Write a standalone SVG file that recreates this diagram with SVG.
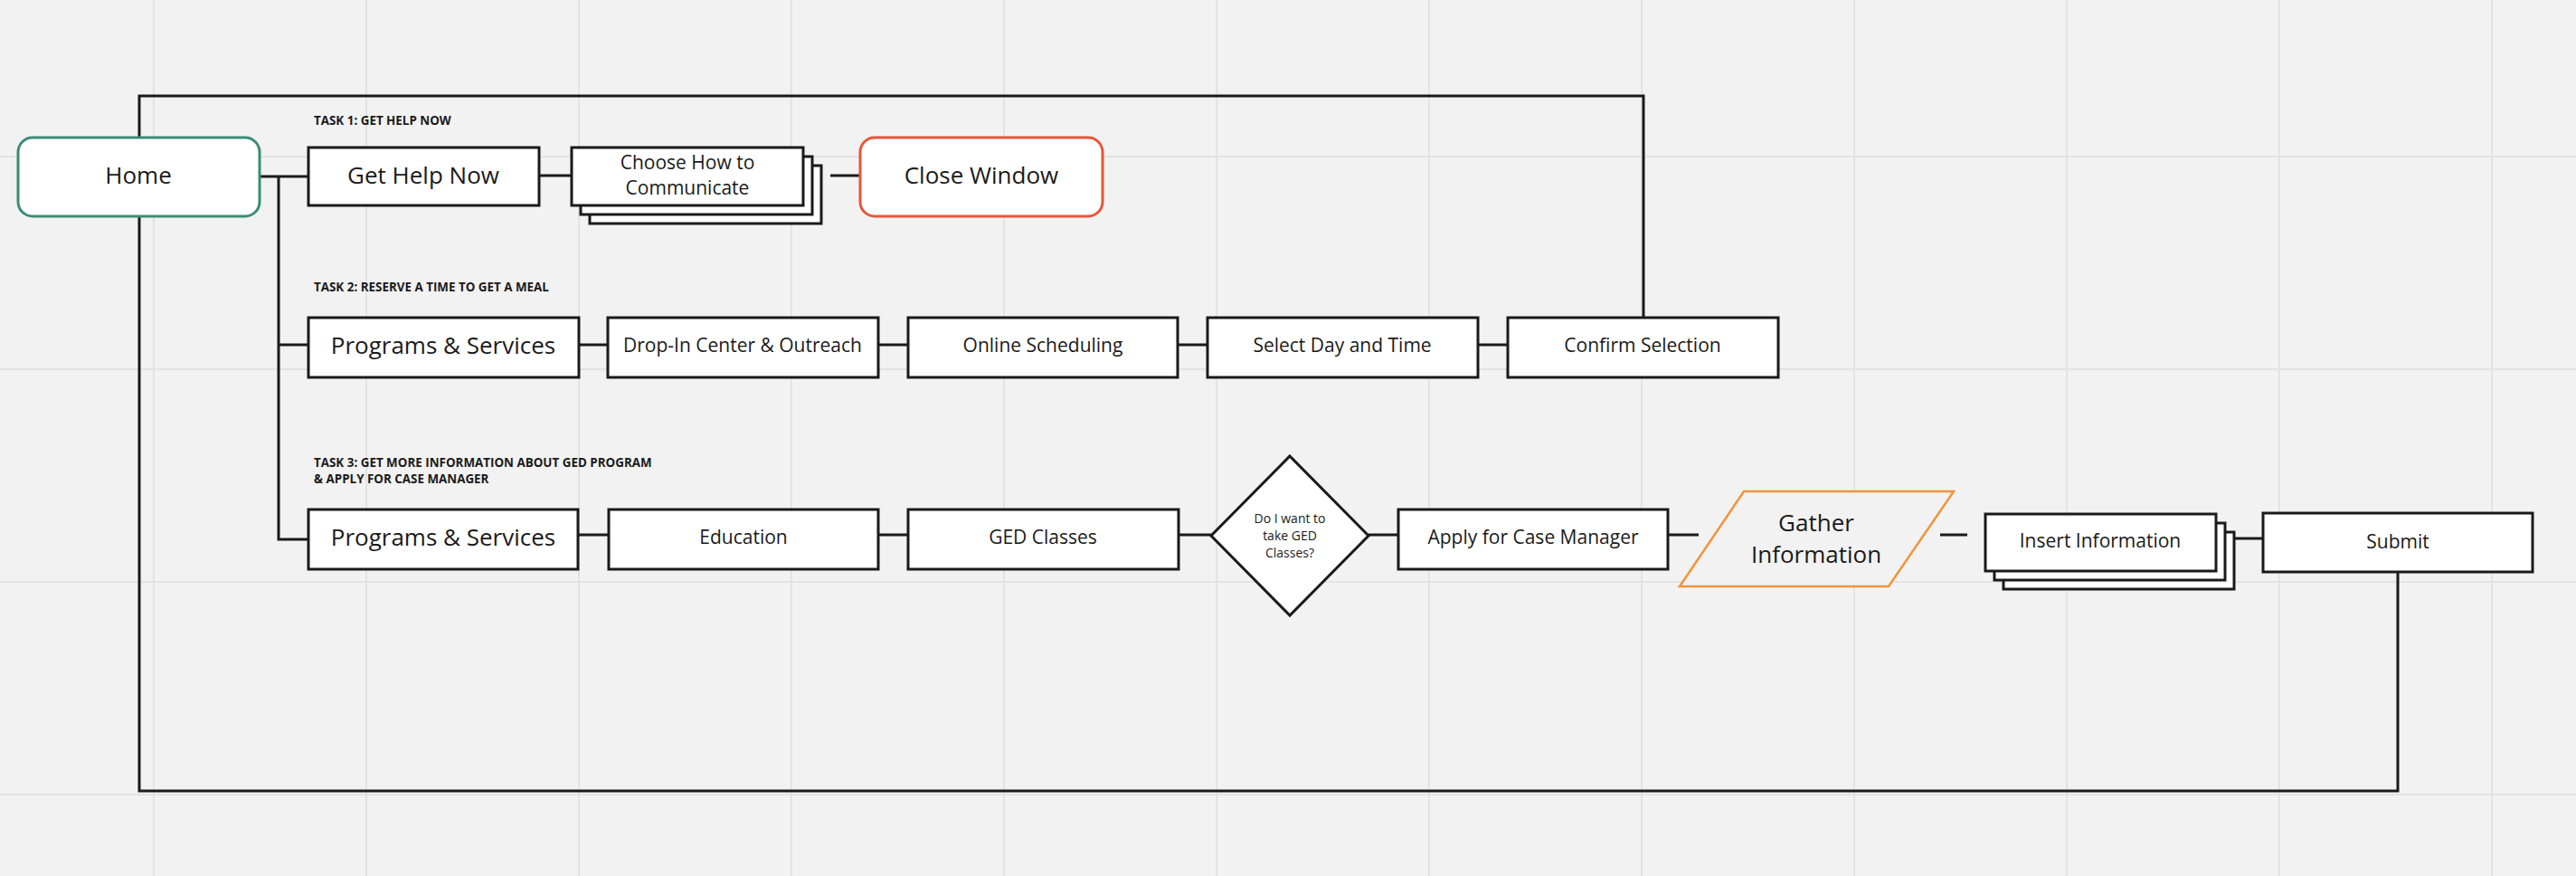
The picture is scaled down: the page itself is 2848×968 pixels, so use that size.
<svg xmlns="http://www.w3.org/2000/svg" width="2848" height="968" viewBox="0 0 2848 968">
<style>
.bg{fill:#f2f2f2}
.grid line{stroke:#e3e3e3;stroke-width:2}
.box{fill:#ffffff;stroke:#1a1a1a;stroke-width:3}
.conn{fill:none;stroke:#1a1a1a;stroke-width:3}
.t{font-family:"Open Sans","Liberation Sans",sans-serif;fill:#1a1a1a;text-anchor:middle;dominant-baseline:central}
.big{font-size:26px}
.mid{font-size:21px}
.sm{font-size:14px}
.lbl{font-family:"Open Sans","Liberation Sans",sans-serif;font-weight:bold;font-size:13.4px;fill:#1a1a1a}
</style>
<rect class="bg" x="0" y="0" width="2848" height="968"/>
<g class="grid">
<line x1="170" y1="0" x2="170" y2="968"/>
<line x1="405" y1="0" x2="405" y2="968"/>
<line x1="640" y1="0" x2="640" y2="968"/>
<line x1="875" y1="0" x2="875" y2="968"/>
<line x1="1110" y1="0" x2="1110" y2="968"/>
<line x1="1345" y1="0" x2="1345" y2="968"/>
<line x1="1580" y1="0" x2="1580" y2="968"/>
<line x1="1815" y1="0" x2="1815" y2="968"/>
<line x1="2050" y1="0" x2="2050" y2="968"/>
<line x1="2285" y1="0" x2="2285" y2="968"/>
<line x1="2520" y1="0" x2="2520" y2="968"/>
<line x1="2755" y1="0" x2="2755" y2="968"/>
<line x1="0" y1="173" x2="2848" y2="173"/>
<line x1="0" y1="408" x2="2848" y2="408"/>
<line x1="0" y1="643" x2="2848" y2="643"/>
<line x1="0" y1="878" x2="2848" y2="878"/>
</g>
<g id="connectors">
<polyline class="conn" points="154,152 154,106 1817,106 1817,351"/>
<polyline class="conn" points="154,239 154,874 2651,874 2651,632"/>
<line class="conn" x1="287" y1="195" x2="341" y2="195"/>
<polyline class="conn" points="308,195 308,596 341,596"/>
<line class="conn" x1="308" y1="381" x2="341" y2="381"/>
<line class="conn" x1="596" y1="194" x2="632" y2="194"/>
<line class="conn" x1="918" y1="194" x2="951" y2="194"/>
<line class="conn" x1="640" y1="381" x2="672" y2="381"/>
<line class="conn" x1="971" y1="381" x2="1004" y2="381"/>
<line class="conn" x1="1302" y1="381" x2="1335" y2="381"/>
<line class="conn" x1="1634" y1="381" x2="1667" y2="381"/>
<line class="conn" x1="639" y1="591" x2="673" y2="591"/>
<line class="conn" x1="971" y1="591" x2="1004" y2="591"/>
<line class="conn" x1="1303" y1="591" x2="1339" y2="591"/>
<line class="conn" x1="1513" y1="591" x2="1546" y2="591"/>
<line class="conn" x1="1844" y1="591" x2="1878" y2="591"/>
<line class="conn" x1="2145" y1="591" x2="2175" y2="591"/>
<line class="conn" x1="2470" y1="595" x2="2502" y2="595"/>
</g>
<text class="lbl" x="347" y="138">TASK 1: GET HELP NOW</text>
<text class="lbl" x="347" y="322">TASK 2: RESERVE A TIME TO GET A MEAL</text>
<text class="lbl" x="347" y="516">TASK 3: GET MORE INFORMATION ABOUT GED PROGRAM</text>
<text class="lbl" x="347" y="534">&amp; APPLY FOR CASE MANAGER</text>
<g id="home">
<rect x="20" y="152" width="267" height="87" rx="16" fill="#ffffff" stroke="#3d8c74" stroke-width="3"/>
<text class="t big" x="153" y="193">Home</text>
</g>
<g id="get-help-now">
<rect class="box" x="341" y="163" width="255" height="64"/>
<text class="t big" x="468" y="193">Get Help Now</text>
</g>
<g id="choose-how">
<rect class="box" x="652" y="183" width="256" height="64"/>
<rect class="box" x="642" y="173" width="256" height="64"/>
<rect class="box" x="632" y="163" width="256" height="64"/>
<text class="t mid" x="760" y="179">Choose How to</text>
<text class="t mid" x="760" y="207">Communicate</text>
</g>
<g id="close-window">
<rect x="951" y="152" width="268" height="87" rx="16" fill="#ffffff" stroke="#e5563b" stroke-width="3"/>
<text class="t big" x="1085" y="193">Close Window</text>
</g>
<g id="ps2">
<rect class="box" x="341" y="351" width="299" height="66"/>
<text class="t big" x="490" y="381">Programs &amp; Services</text>
</g>
<g id="dropin">
<rect class="box" x="672" y="351" width="299" height="66"/>
<text class="t mid" x="821" y="381">Drop-In Center &amp; Outreach</text>
</g>
<g id="online">
<rect class="box" x="1004" y="351" width="298" height="66"/>
<text class="t mid" x="1153" y="381">Online Scheduling</text>
</g>
<g id="selectday">
<rect class="box" x="1335" y="351" width="299" height="66"/>
<text class="t mid" x="1484" y="381">Select Day and Time</text>
</g>
<g id="confirm">
<rect class="box" x="1667" y="351" width="299" height="66"/>
<text class="t mid" x="1816" y="381">Confirm Selection</text>
</g>
<g id="ps3">
<rect class="box" x="341" y="563" width="298" height="66"/>
<text class="t big" x="490" y="593">Programs &amp; Services</text>
</g>
<g id="education">
<rect class="box" x="673" y="563" width="298" height="66"/>
<text class="t mid" x="822" y="593">Education</text>
</g>
<g id="ged">
<rect class="box" x="1004" y="563" width="299" height="66"/>
<text class="t mid" x="1153" y="593">GED Classes</text>
</g>
<g id="decision">
<polygon class="box" points="1426,504 1513,592 1426,680 1339,592" stroke-width="2.5"/>
<text class="t sm" x="1426" y="572">Do I want to</text>
<text class="t sm" x="1426" y="591">take GED</text>
<text class="t sm" x="1426" y="610">Classes?</text>
</g>
<g id="apply">
<rect class="box" x="1546" y="563" width="298" height="66"/>
<text class="t mid" x="1695" y="593">Apply for Case Manager</text>
</g>
<g id="gather">
<polygon points="1928,543 2160,543 2088,648 1857,648" fill="#f2f2f2" stroke="#f0953a" stroke-width="2.5"/>
<text class="t big" x="2008" y="577">Gather</text>
<text class="t big" x="2008" y="612">Information</text>
</g>
<g id="insert">
<rect class="box" x="2215" y="588" width="255" height="63"/>
<rect class="box" x="2205" y="578" width="255" height="63"/>
<rect class="box" x="2195" y="568" width="255" height="63"/>
<text class="t mid" x="2322" y="597">Insert Information</text>
</g>
<g id="submit">
<rect class="box" x="2502" y="567" width="298" height="65"/>
<text class="t mid" x="2651" y="598">Submit</text>
</g>
</svg>
